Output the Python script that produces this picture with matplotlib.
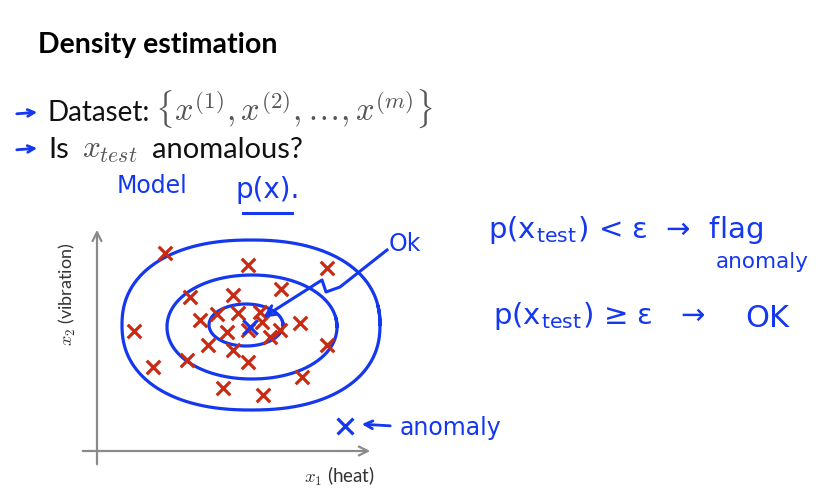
import numpy as np
import matplotlib
matplotlib.use("Agg")
import matplotlib.pyplot as plt

plt.rcParams['mathtext.fontset'] = 'cm'

# ---- data (units: arbitrary heat / vibration) ----
heat = [6.8, 15.1, 23.0, 9.3, 13.6, 18.4, 3.7, 10.3, 12.0, 14.1, 16.3, 16.5,
        20.3, 13.0, 15.1, 17.3, 18.3, 11.1, 13.6, 15.1, 9.0, 5.6, 23.0, 20.5,
        12.6, 16.6]
vibration = [19.8, 18.6, 18.3, 15.4, 15.6, 16.2, 12.0, 13.1, 13.7, 13.8, 13.9, 12.9,
             12.8, 11.9, 12.1, 11.4, 12.1, 10.6, 10.1, 8.9, 9.1, 8.4, 10.6, 7.4,
             6.3, 5.6]
x_test = (15.3, 12.4)
anomaly = (24.8, 2.5)
# density contours: (centre x, centre y, half-width, half-height, squareness)
contours = [(15.4, 12.6, 12.9, 8.5, 2.25),
            (15.5, 12.4, 8.5, 5.2, 2.05),
            (14.9, 12.6, 3.7, 2.1, 2.0)]

RED = '#c82a14'
BLUE = '#1437f0'
GRAY = '#8a8a8a'

W, H = 831, 494
fig = plt.figure(figsize=(W / 100, H / 100), dpi=100)

# overlay axes in pixel coordinates for slide text
ov = fig.add_axes([0, 0, 1, 1])
ov.set_xlim(0, W)
ov.set_ylim(H, 0)
ov.axis('off')

# data axes
ax = fig.add_axes([97 / W, (H - 451) / H, 280 / W, 223 / H])
ax.set_xlim(0, 28)
ax.set_ylim(0, 22.3)
ax.axis('off')

# axes arrows
ax.annotate('', xy=(0, 22.4), xytext=(0, -1.6),
            arrowprops=dict(arrowstyle='->', color=GRAY, lw=1.6, mutation_scale=16),
            annotation_clip=False)
ax.annotate('', xy=(27.6, 0), xytext=(-1.7, 0),
            arrowprops=dict(arrowstyle='->', color=GRAY, lw=1.6, mutation_scale=16),
            annotation_clip=False)

# contours
t = np.linspace(0, 2 * np.pi * 1.03, 400)
for cx, cy, a, b, n in contours:
    ct, st = np.cos(t), np.sin(t)
    xs = cx + a * np.sign(ct) * np.abs(ct) ** (2 / n)
    ys = cy + b * np.sign(st) * np.abs(st) ** (2 / n)
    ax.plot(xs, ys, color=BLUE, lw=2.3, clip_on=False, solid_capstyle='round')

# data points
ax.scatter(heat, vibration, marker='x', s=95, color=RED, linewidths=2.3,
           clip_on=False, zorder=3)
ax.scatter([x_test[0]], [x_test[1]], marker='x', s=110, color=BLUE,
           linewidths=2.3, clip_on=False, zorder=4)
ax.scatter([anomaly[0]], [anomaly[1]], marker='x', s=130, color=BLUE,
           linewidths=2.3, clip_on=False, zorder=4)

# "Ok" arrow
px = [29.0, 24.3, 22.9, 22.5, 17.0]
py = [20.1, 16.4, 15.9, 17.1, 13.6]
ax.plot(px, py, color=BLUE, lw=2.2, clip_on=False, solid_joinstyle='round')
ax.annotate('', xy=(16.4, 13.2), xytext=(17.6, 14.0),
            arrowprops=dict(arrowstyle='->', color=BLUE, lw=2.2, mutation_scale=18),
            annotation_clip=False)

# anomaly arrow
ax.annotate('', xy=(26.2, 2.7), xytext=(29.6, 2.5),
            arrowprops=dict(arrowstyle='->', color=BLUE, lw=2.0, mutation_scale=14),
            annotation_clip=False)

# axis labels
ov.text(67, 294, r'$x_2$ (vibration)', rotation=90, ha='center', va='center',
        fontsize=13, color='#333333', family='Lato')
ov.text(339, 476, r'$x_1$ (heat)', ha='center', va='center',
        fontsize=13.5, color='#333333', family='Lato')

# title and bullets
ov.text(38, 53, 'Density estimation', fontsize=20.5, fontweight='bold',
        family='Lato', color='black', va='baseline')
ov.text(48, 121, 'Dataset:', fontsize=20, family='Lato', color='#111111', va='baseline')
ov.text(155, 121, r'$\{x^{(1)},x^{(2)},\ldots,x^{(m)}\}$', fontsize=23.5,
        color='#555555', va='baseline')
ov.text(48, 158, 'Is', fontsize=21, family='Lato', color='#111111', va='baseline')
ov.text(82, 158, r'$x_{test}$', fontsize=22.5, color='#555555', va='baseline')
ov.text(152, 158, 'anomalous?', fontsize=21, family='Lato', color='#111111', va='baseline')
for yy in (112, 148):
    ov.annotate('', xy=(40, yy), xytext=(14, yy + 2),
                arrowprops=dict(arrowstyle='->', color=BLUE, lw=2.0, mutation_scale=12))

# handwriting
hw = dict(color=BLUE, family='DejaVu Sans', va='center')
ov.text(117, 186, 'Model', fontsize=17, **hw)
ov.text(235, 190, 'p(x).', fontsize=20, **hw)
ov.plot([243, 292], [213, 213], color=BLUE, lw=2.2)
ov.text(389, 244, 'Ok', fontsize=17, **hw)
ov.text(488, 230, r'p(x$_{\mathregular{test}}$) < ε  →  flag', fontsize=21, **hw)
ov.text(716, 262, 'anomaly', fontsize=15.5, **hw)
ov.text(493, 316, r'p(x$_{\mathregular{test}}$) ≥ ε   →', fontsize=21, **hw)
ov.text(745, 318, 'OK', fontsize=22, **hw)
ov.text(400, 428, 'anomaly', fontsize=17, **hw)

fig.savefig('out.png', dpi=100, facecolor='white')
